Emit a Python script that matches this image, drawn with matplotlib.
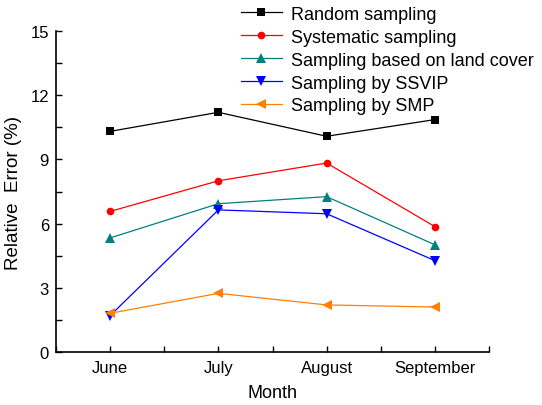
import matplotlib
matplotlib.use("Agg")
import matplotlib.pyplot as plt
from matplotlib.ticker import MultipleLocator

plt.rcParams['font.family'] = ['Liberation Sans', 'DejaVu Sans']

months = ["June", "July", "August", "September"]
random_s = [10.31, 11.2, 10.08, 10.86]
systematic = [6.57, 8.0, 8.83, 5.86]
landcover = [5.33, 6.93, 7.26, 5.01]
ssvip = [1.70, 6.64, 6.46, 4.27]
smp = [1.81, 2.74, 2.20, 2.10]

labels = ["Random sampling", "Systematic sampling", "Sampling based on land cover",
          "Sampling by SSVIP", "Sampling by SMP"]
series = [random_s, systematic, landcover, ssvip, smp]
colors = ["#000000", "#FF0000", "#008080", "#0000FF", "#FF8000"]
markers = ["s", "o", "^", "v", "<"]
msizes = [5.5, 5.5, 7, 7, 7]

fig = plt.figure(figsize=(5.42, 4.06), dpi=100)
ax = fig.add_axes([56/542, 53/406, 433/542, 321/406])
x = list(range(1, len(months) + 1))
handles = []
for ys, lab, c, m, ms in zip(series, labels, colors, markers, msizes):
    h, = ax.plot(x, ys, color=c, marker=m, markersize=ms, linewidth=0.9,
                 markeredgewidth=0, label=lab)
    handles.append(h)

ax.set_xlim(0.5, 4.5)
ax.set_ylim(0, 15)
ax.set_xticks(x)
ax.set_xticklabels(months)
ax.set_xticks([0.5, 1.5, 2.5, 3.5, 4.5], minor=True)
ax.yaxis.set_major_locator(MultipleLocator(3))
ax.yaxis.set_minor_locator(MultipleLocator(1.5))
ax.tick_params(which='both', direction='in', length=4.5, width=1, labelsize=12)
ax.tick_params(axis='x', pad=6)
ax.tick_params(axis='y', pad=5)
for s in ['top', 'right']:
    ax.spines[s].set_visible(False)
for s in ['left', 'bottom']:
    ax.spines[s].set_linewidth(1.2)

ax.set_xlabel("Month", fontsize=13, labelpad=6)
ax.set_ylabel("Relative  Error (%)", fontsize=13.5, labelpad=6)

fig.legend(handles=handles, loc='upper left', bbox_to_anchor=(228/542, 1 + 6/406),
           frameon=False, fontsize=13, handlelength=2.3, handletextpad=0.5,
           labelspacing=0.33, borderpad=0.2)

fig.savefig("out.png", dpi=100)
